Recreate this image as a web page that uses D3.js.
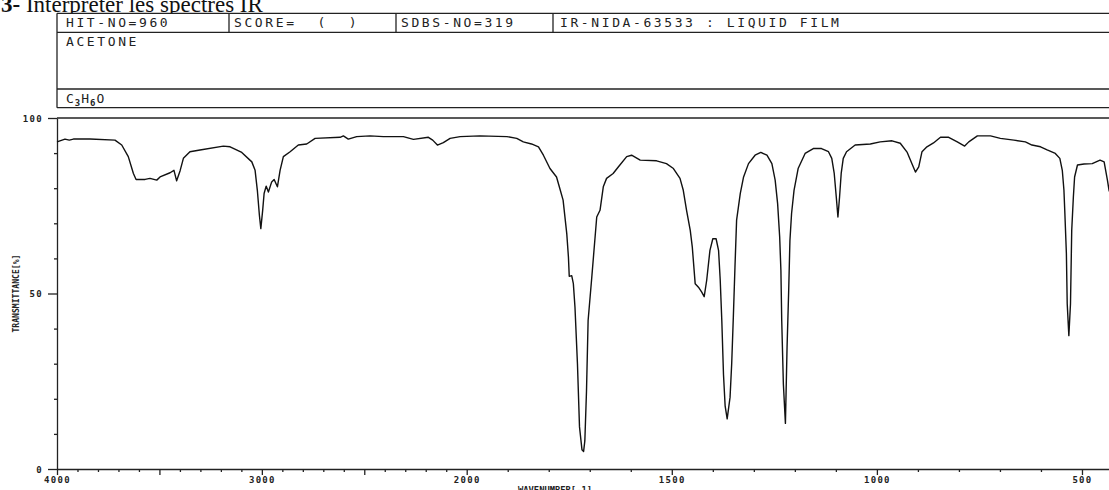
<!DOCTYPE html>
<html>
<head>
<meta charset="utf-8">
<script src="https://cdn.jsdelivr.net/npm/d3@7"></script>
<style>
  body { margin: 0; background: #fff; }
  svg { display: block; }
  .hdr { font-family: "DejaVu Sans Mono", monospace; font-size: 13px; letter-spacing: 2.6px; fill: #222; }
  .tick text { font-family: "DejaVu Sans Mono", monospace; font-size: 9px; font-weight: bold; letter-spacing: 1.3px; fill: #222; }
  .axis path, .axis line { stroke: #222; stroke-width: 1.3px; }
</style>
</head>
<body>
<div id="chart"></div>
<script>
// header texts
const titleNum = "3-";
const titleText = " Interpréter les spectres IR";
const headerCells = ["HIT-NO=960", "SCORE=  (  )", "SDBS-NO=319", "IR-NIDA-63533 : LIQUID FILM"];
const compoundName = "ACETONE";

// axis ticks
const xTickLabels = [4000, 3000, 2000, 1500, 1000, 500];
const yTickLabels = [0, 50, 100];

// spectrum (wavenumber in cm-1, transmittance in %)
const wavenumbers = [4000, 3961, 3940, 3920, 3839, 3717, 3684, 3652, 3627, 3614, 3570, 3546, 3513, 3497, 3448, 3429, 3416, 3399, 3383, 3351,
  3302, 3188, 3155, 3098, 3049, 3033, 3022, 3012, 3005, 2996, 2989, 2979, 2968, 2952, 2940, 2924, 2911, 2895, 2862, 2822,
  2781, 2740, 2618, 2602, 2578, 2537, 2472, 2407, 2309, 2260, 2187, 2166, 2143, 2114, 2081, 2032, 1968, 1902, 1878, 1862,
  1842, 1825, 1813, 1797, 1781, 1773, 1765, 1756, 1752, 1750, 1744, 1740, 1736, 1730, 1725, 1719, 1715, 1712, 1708, 1704,
  1695, 1687, 1683, 1675, 1667, 1659, 1643, 1630, 1610, 1598, 1577, 1537, 1513, 1496, 1480, 1472, 1464, 1455, 1450, 1443,
  1435, 1427, 1421, 1415, 1407, 1400, 1392, 1386, 1382, 1378, 1374, 1370, 1365, 1358, 1354, 1350, 1346, 1342, 1333, 1325,
  1313, 1297, 1283, 1268, 1256, 1248, 1242, 1237, 1234, 1232, 1228, 1223, 1219, 1215, 1212, 1208, 1202, 1192, 1175, 1155,
  1135, 1118, 1110, 1104, 1099, 1095, 1091, 1087, 1082, 1074, 1053, 1016, 992, 963, 943, 926, 914, 906, 898, 890,
  878, 862, 845, 825, 804, 786, 776, 755, 723, 699, 666, 638, 622, 601, 585, 565, 554, 548, 544, 542,
  538, 536, 532, 528, 525, 521, 518, 511, 495, 475, 456, 446, 438, 434, 430];
const transmittance = [93.2, 94.0, 93.7, 94.0, 94.0, 93.7, 92.3, 89.0, 84.2, 82.5, 82.5, 82.8, 82.3, 83.2, 84.4, 85.1, 82.1, 85.0, 88.5, 90.4,
  90.9, 92.0, 91.8, 90.2, 87.5, 85.1, 79.4, 72.3, 68.5, 73.7, 78.5, 80.6, 78.9, 81.8, 82.5, 80.4, 85.1, 89.0, 90.4, 92.3,
  92.6, 94.2, 94.5, 94.9, 94.0, 94.7, 94.9, 94.7, 94.7, 93.9, 94.5, 93.7, 92.3, 93.0, 94.2, 94.7, 94.9, 94.7, 94.2, 93.2,
  92.6, 91.8, 89.4, 85.6, 83.2, 79.9, 76.6, 67.0, 60.4, 54.9, 55.1, 52.8, 46.0, 30.0, 12.0, 5.5, 5.0, 8.0, 22.0, 42.3,
  54.7, 66.1, 71.8, 73.7, 80.4, 82.8, 84.2, 86.1, 89.0, 89.4, 88.0, 87.8, 87.0, 85.6, 82.8, 79.4, 73.7, 68.0, 63.2, 52.8,
  51.8, 50.4, 49.1, 53.7, 62.3, 65.6, 65.6, 62.3, 54.0, 42.0, 27.0, 18.0, 14.3, 20.4, 29.9, 43.2, 57.5, 70.9, 78.5, 83.2,
  87.0, 89.4, 90.2, 89.4, 87.0, 82.3, 75.6, 66.1, 56.6, 42.3, 24.2, 13.0, 34.7, 50.9, 65.1, 72.8, 79.4, 85.6, 89.9, 91.3,
  91.3, 90.4, 88.5, 84.2, 77.5, 71.8, 77.5, 84.2, 88.5, 90.4, 92.3, 92.6, 93.2, 93.5, 92.8, 90.2, 86.8, 84.6, 86.1, 90.4,
  91.8, 92.9, 94.5, 94.5, 93.2, 92.0, 93.2, 94.9, 94.9, 94.2, 93.7, 93.2, 92.3, 91.8, 90.9, 89.9, 88.5, 85.1, 79.4, 73.7,
  61.3, 47.1, 38.0, 47.1, 68.0, 77.5, 83.2, 86.6, 86.9, 87.0, 88.0, 87.5, 82.3, 79.4, 78.0];

const W = 1109, H = 490;
const plot = {left: 57, top: 118, bottom: 469};

const svg = d3.select("#chart").append("svg")
  .attr("width", W)
  .attr("height", H);

// title, partly cut by the top edge
const t = svg.append("text")
  .attr("x", 1)
  .attr("y", 11.5)
  .style("font-family", "'Liberation Serif', serif")
  .style("font-size", "23px")
  .style("fill", "#111")
  .attr("xml:space", "preserve");
t.append("tspan").style("font-weight", "bold").text(titleNum);
t.append("tspan").text(titleText);

// header box
const hdrTop = 13.3, hdrRow1 = 32.3, hdrRow2 = 89, hdrBottom = 107.7;
const colX = [57, 229, 396, 553];
svg.append("rect")
  .attr("x", plot.left).attr("y", hdrTop)
  .attr("width", W - plot.left + 5).attr("height", hdrBottom - hdrTop)
  .attr("fill", "#fff");

const hdr = svg.append("g").attr("stroke", "#222").attr("stroke-width", 1.3);
[hdrTop, hdrRow1, hdrRow2, hdrBottom].forEach(y => {
  hdr.append("line").attr("x1", plot.left).attr("x2", W).attr("y1", y).attr("y2", y);
});
hdr.append("line").attr("x1", plot.left).attr("x2", plot.left).attr("y1", hdrTop).attr("y2", hdrBottom);
colX.slice(1).forEach(x => {
  hdr.append("line").attr("x1", x).attr("x2", x).attr("y1", hdrTop).attr("y2", hdrRow1);
});

const textX = [66, 234, 401, 560];
headerCells.forEach((c, i) => {
  svg.append("text").attr("class", "hdr")
    .attr("x", textX[i]).attr("y", 27.3)
    .attr("xml:space", "preserve")
    .style("white-space", "pre")
    .text(c);
});

svg.append("text").attr("class", "hdr")
  .attr("x", 66).attr("y", 46)
  .text(compoundName);

// formula C3H6O with subscripts
const formula = svg.append("text").attr("class", "hdr")
  .attr("x", 66).attr("y", 103.3)
  .style("letter-spacing", "1px");
formula.append("tspan").text("C");
formula.append("tspan").attr("dy", 2.7).style("font-size", "9px").style("font-weight", "bold").text("3");
formula.append("tspan").attr("dy", -2.7).text("H");
formula.append("tspan").attr("dy", 2.7).style("font-size", "9px").style("font-weight", "bold").text("6");
formula.append("tspan").attr("dy", -2.7).text("O");

// scales: 4000-2000 compressed, 2000-400 expanded twice
const x = d3.scaleLinear()
  .domain([4000, 2000, 400])
  .range([plot.left, 466.7, 1123]);

const y = d3.scaleLinear()
  .domain([0, 100])
  .range([plot.bottom, plot.top]);

// x axis
const xAxis = d3.axisBottom(x)
  .tickValues(d3.range(4000, 399, -100))
  .tickSizeOuter(0)
  .tickFormat(d => xTickLabels.includes(d) ? d : "");

const gx = svg.append("g")
  .attr("class", "axis")
  .attr("transform", `translate(0,${plot.bottom})`)
  .call(xAxis);
gx.selectAll(".tick line").attr("y2", d => d % 500 === 0 ? 6 : 3);
gx.selectAll(".tick text").attr("y", 8);

// y axis
const yAxis = d3.axisLeft(y)
  .tickValues(d3.range(0, 101, 10))
  .tickSizeOuter(0)
  .tickFormat(d => yTickLabels.includes(d) ? d : "");

const gy = svg.append("g")
  .attr("class", "axis")
  .attr("transform", `translate(${plot.left},0)`)
  .call(yAxis);
gy.selectAll(".tick line").attr("x2", d => d % 50 === 0 ? -9 : -3);
gy.selectAll(".tick text").attr("x", -14).attr("dy", "0.35em");

// top border of the plot
svg.append("line")
  .attr("x1", plot.left).attr("x2", W)
  .attr("y1", y(100)).attr("y2", y(100))
  .attr("stroke", "#222").attr("stroke-width", 1.3);

// axis titles
svg.append("text")
  .attr("transform", `translate(19,${(plot.top + plot.bottom) / 2}) rotate(-90)`)
  .attr("text-anchor", "middle")
  .attr("textLength", 78)
  .attr("lengthAdjust", "spacingAndGlyphs")
  .style("font-family", "'DejaVu Sans Mono', monospace")
  .style("font-size", "9px")
  .style("font-weight", "bold")
  .style("fill", "#222")
  .text("TRANSMITTANCE[%]");

svg.append("text")
  .attr("x", 518)
  .attr("y", 493)
  .attr("textLength", 74)
  .attr("lengthAdjust", "spacingAndGlyphs")
  .style("font-family", "'DejaVu Sans Mono', monospace")
  .style("font-size", "9px")
  .style("font-weight", "bold")
  .style("fill", "#222")
  .text("WAVENUMBER[-1]");

// spectrum line
const spectrum = wavenumbers.map((w, i) => ({wn: w, t: transmittance[i]}));

const line = d3.line()
  .x(d => x(d.wn))
  .y(d => y(d.t));

svg.append("path")
  .datum(spectrum)
  .attr("fill", "none")
  .attr("stroke", "#111")
  .attr("stroke-width", 1.4)
  .attr("stroke-linejoin", "round")
  .attr("d", line);
</script>
</body>
</html>
